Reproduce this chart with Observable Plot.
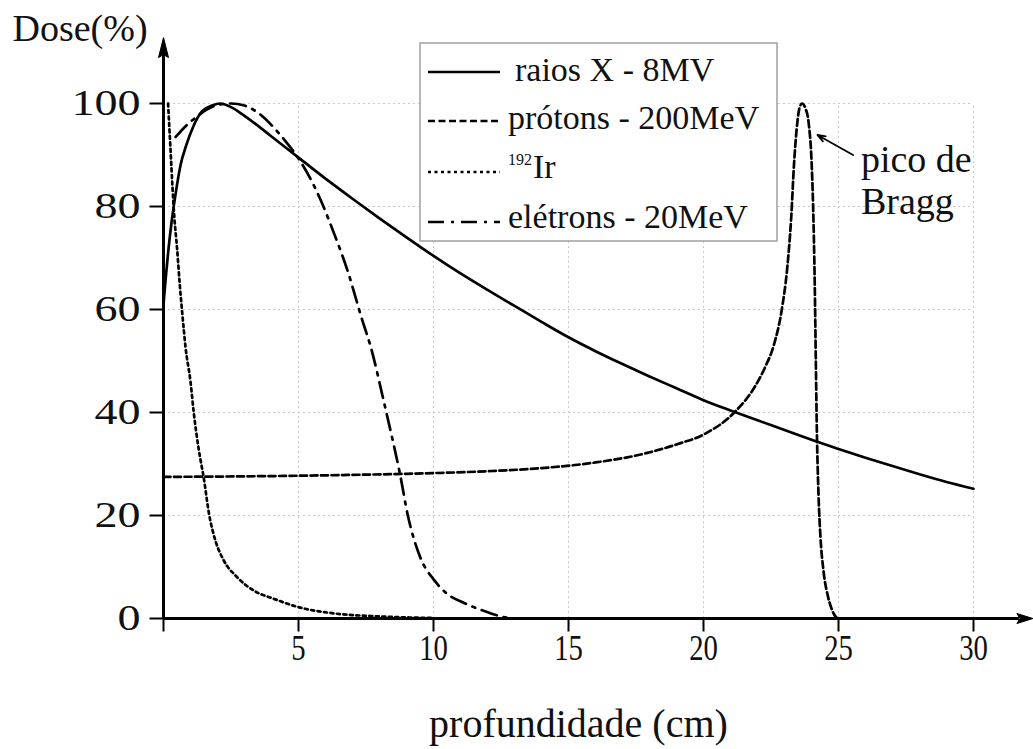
<!DOCTYPE html>
<html>
<head>
<meta charset="utf-8">
<script src="https://cdn.jsdelivr.net/npm/d3@7"></script>
<script src="https://cdn.jsdelivr.net/npm/@observablehq/plot@0.6"></script>
<style>
  body { margin: 0; background: #fff; }
  svg { display: block; }
</style>
</head>
<body>
<div id="chart"></div>
<script>
const FONT = '"Liberation Serif", "DejaVu Serif", "Times New Roman", serif';

// ---- data ----
const xrayX = [0, 0.08, 0.18, 0.3, 0.45, 0.63, 0.85, 1.1, 1.43, 1.8, 2.1, 2.5, 3, 4, 5, 6, 7, 8, 9, 10, 11, 12, 13, 14, 15, 16, 17, 18, 19, 20, 21, 22, 23, 24, 25, 26, 27, 28, 29, 30];
const xrayY = [61, 66, 71.5, 77, 82.5, 88, 92, 95.5, 98.5, 99.6, 100, 99.3, 97.6, 93.6, 89.5, 85.4, 81.5, 77.7, 74.0, 70.4, 67.0, 63.8, 60.7, 57.6, 54.6, 51.9, 49.4, 47.0, 44.7, 42.4, 40.4, 38.5, 36.6, 34.7, 32.9, 31.2, 29.6, 28.0, 26.5, 25.2];

const protonX = [0, 3, 6, 9, 12, 14, 16, 17.8, 19, 20.07, 21.16, 21.9, 22.3, 22.6, 22.9, 23.1, 23.25, 23.35, 23.45, 23.55, 23.65, 23.78, 23.9, 24.0, 24.06, 24.12, 24.16, 24.2, 24.26, 24.33, 24.45, 24.6, 24.75, 24.9, 25, 30];
const protonY = [27.5, 27.6, 27.8, 28.1, 28.6, 29.2, 30.3, 32.0, 33.8, 35.9, 40.1, 45, 49, 53, 60, 68, 78, 88, 95, 99, 100, 99, 96, 89, 80, 65, 50, 36, 24, 16, 9, 4.5, 1.8, 0.3, 0, 0];

const irX = [0.17, 0.22, 0.27, 0.33, 0.4, 0.5, 0.6, 0.7, 0.82, 1.0, 1.12, 1.3, 1.5, 1.68, 1.93, 2.23, 2.73, 3.35, 4.1, 5.0, 6.3, 8, 10];
const irY = [100, 95, 90, 84, 78, 72, 65, 59, 52.5, 46, 40, 33, 27, 20.5, 15, 11.3, 8, 5.4, 3.8, 2.2, 1.0, 0.4, 0.1];

const eletronX = [0.45, 0.8, 1.2, 1.6, 2.0, 2.5, 3.0, 3.5, 4.0, 4.5, 5.0, 5.4, 5.8, 6.3, 6.85, 7.3, 7.75, 8.1, 8.45, 8.75, 9.05, 9.5, 10.05, 10.5, 11.1, 11.8, 12.5, 12.9];
const eletronY = [93.5, 95.5, 97.3, 98.8, 99.7, 100, 99.6, 98.2, 95.8, 92.8, 89.3, 85.8, 81.5, 75, 67, 59, 51.3, 43.5, 35.5, 28.3, 20, 12, 7.3, 4.8, 3.1, 1.6, 0.4, 0];

const seriesNames = ["raios X - 8MV", "prótons - 200MeV", "192Ir", "elétrons - 20MeV"];
const seriesDash = ["none", "7,3.5", "3,3.5", "16,7,3,7"];

const xTickValues = [0, 5, 10, 15, 20, 25, 30];
const xTickLabels = [5, 10, 15, 20, 25, 30];
const yTickValues = [0, 20, 40, 60, 80, 100];
const xGrid = [5, 10, 15, 20, 25, 30];
const yGrid = [20, 40, 60, 80, 100];
const xAxisEnd = 32.2;   // arrow tip of the x axis (data units)
const yAxisEnd = 112.8;  // arrow tip of the y axis (data units)

const xTitle = "profundidade (cm)";
const yTitle = "Dose(%)";
const braggText = [{x: 25.83, y: 89.0, text: "pico de"}, {x: 25.83, y: 80.9, text: "Bragg"}];
const braggArrow = [{x1: 25.54, y1: 90.0, x2: 24.22, y2: 93.9}];

// ---- tables ----
const zip = (xs, ys) => xs.map((x, i) => ({x, y: ys[i]}));
const xray = zip(xrayX, xrayY);
const proton = zip(protonX, protonY);
const ir = zip(irX, irY);
const eletron = zip(eletronX, eletronY);

// custom symbols (arrowheads and ticks)
const arrowUp = {draw(c) { c.moveTo(0, 0); c.lineTo(5, 20); c.lineTo(0, 17); c.lineTo(-5, 20); c.closePath(); }};
const arrowRight = {draw(c) { c.moveTo(0, 0); c.lineTo(-16, 5); c.lineTo(-13, 0); c.lineTo(-16, -5); c.closePath(); }};
const tickDown = {draw(c) { c.moveTo(0, 0); c.lineTo(0, 13); }};
const tickLeft = {draw(c) { c.moveTo(0, 0); c.lineTo(-14, 0); }};

const lineOpts = (dash) => ({x: "x", y: "y", curve: "monotone-x", stroke: "black", strokeWidth: 2.7,
  strokeDasharray: dash === "none" ? undefined : dash});

const svg = Plot.plot({
  width: 1033,
  height: 749,
  marginLeft: 163,
  marginRight: 60,
  marginTop: 103,
  marginBottom: 131,
  x: {domain: [0, 30], axis: null},
  y: {domain: [0, 100], axis: null},
  style: {fontFamily: FONT, background: "white", color: "black"},
  marks: [
    Plot.ruleX(xGrid, {x: d => d, y1: () => 0, y2: () => 100, stroke: "#c9c9c9", strokeWidth: 1, strokeDasharray: "2,3"}),
    Plot.ruleY(yGrid, {y: d => d, x1: () => 0, x2: () => 30, stroke: "#c9c9c9", strokeWidth: 1, strokeDasharray: "2,3"}),

    Plot.line(ir, lineOpts(seriesDash[2])),
    Plot.line(eletron, lineOpts(seriesDash[3])),
    Plot.line(proton, lineOpts(seriesDash[1])),
    Plot.line(xray, lineOpts(seriesDash[0])),

    // axes
    Plot.ruleY([0], {y: d => d, x1: () => 0, x2: () => xAxisEnd - 0.5, stroke: "black", strokeWidth: 3}),
    Plot.ruleX([0], {x: d => d, y1: () => 0, y2: () => yAxisEnd - 3, stroke: "black", strokeWidth: 3}),
    Plot.dot([{x: xAxisEnd, y: 0}], {x: "x", y: "y", symbol: arrowRight, fill: "black", stroke: "black", strokeWidth: 1}),
    Plot.dot([{x: 0, y: yAxisEnd}], {x: "x", y: "y", symbol: arrowUp, fill: "black", stroke: "black", strokeWidth: 1}),
    Plot.dot(xTickValues, {x: d => d, y: () => 0, symbol: tickDown, fill: "none", stroke: "black", strokeWidth: 2}),
    Plot.dot(yTickValues, {x: () => 0, y: d => d, symbol: tickLeft, fill: "none", stroke: "black", strokeWidth: 2}),

    // tick labels (font sizes 35 / 36 are used below to find them for stretching)
    Plot.text(xTickLabels, {x: d => d, y: () => 0, text: d => String(d), dy: 30,
      fontSize: 35, fontFamily: FONT, fill: "#111", lineAnchor: "middle"}),
    Plot.text(yTickValues, {x: () => 0, y: d => d, text: d => String(d), dx: -23,
      textAnchor: "end", fontSize: 36, fontFamily: FONT, fill: "#111", lineAnchor: "middle"}),

    // axis titles
    Plot.text([yTitle], {frameAnchor: "top-left", text: d => d, dx: -151, dy: -75, textAnchor: "start",
      lineAnchor: "middle", fontSize: 38, fontFamily: FONT, fill: "#111"}),
    Plot.text([xTitle], {frameAnchor: "bottom", text: d => d, dx: 10, dy: 106,
      lineAnchor: "middle", fontSize: 40, fontFamily: FONT, fill: "#111"}),

    // Bragg peak annotation
    Plot.arrow(braggArrow, {x1: "x1", y1: "y1", x2: "x2", y2: "y2", stroke: "black", strokeWidth: 1.8, headLength: 7, headAngle: 40}),
    Plot.text(braggText, {x: "x", y: "y", text: "text", textAnchor: "start", lineAnchor: "middle",
      fontSize: 38, fontFamily: FONT, fill: "#111"})
  ]
});

// horizontal stretch of tick labels, as in the reference typography
function stretch(size, sx) {
  svg.querySelectorAll(`g[font-size="${size}"] text, text[font-size="${size}"]`).forEach(t => {
    const tr = t.getAttribute("transform");
    if (tr && /translate/.test(tr)) t.setAttribute("transform", tr + ` scale(${sx},1)`);
    else {
      const x = +t.getAttribute("x") || 0;
      t.setAttribute("transform", `translate(${x},0) scale(${sx},1) translate(${-x},0)` + (tr ? " " + tr : ""));
    }
  });
}
stretch(36, 1.28);
stretch(35, 0.82);

// legend box
const lg = d3.select(svg).append("g").attr("font-family", FONT).attr("fill", "#111").attr("text-anchor", "start");
lg.append("rect").attr("x", 420).attr("y", 43).attr("width", 357).attr("height", 198)
  .attr("fill", "white").attr("stroke", "#a0a0a0").attr("stroke-width", 1.5);
const rowLineY = [72, 121, 172, 222];
const rowBase = [81, 129, 178, 228];
const rowTextX = [515, 508, 508, 508];
seriesNames.forEach((name, i) => {
  lg.append("line").attr("x1", 428).attr("x2", 500).attr("y1", rowLineY[i]).attr("y2", rowLineY[i])
    .attr("stroke", "black").attr("stroke-width", 2.7)
    .attr("stroke-dasharray", seriesDash[i] === "none" ? null : seriesDash[i]);
  if (name === "192Ir") {
    lg.append("text").attr("x", rowTextX[i]).attr("y", rowBase[i] - 13).attr("font-size", 16).text("192");
    lg.append("text").attr("x", rowTextX[i] + 25).attr("y", rowBase[i]).attr("font-size", 34).text("Ir");
  } else {
    lg.append("text").attr("x", rowTextX[i]).attr("y", rowBase[i]).attr("font-size", 34).text(name);
  }
});

document.getElementById("chart").appendChild(svg);
</script>
</body>
</html>
